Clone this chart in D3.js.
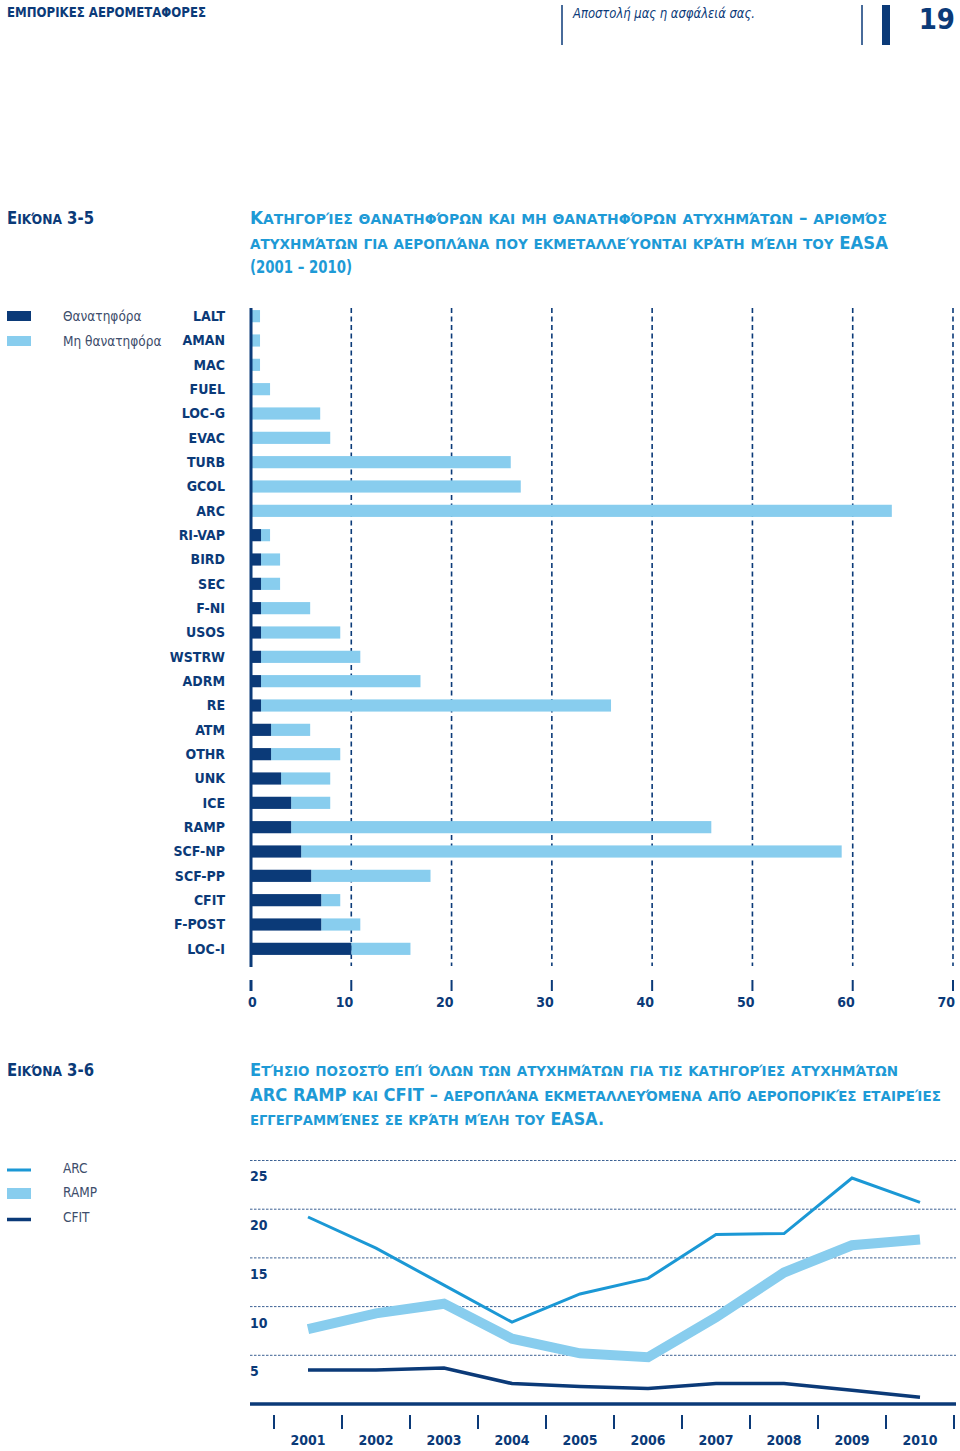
<!DOCTYPE html>
<html lang="el">
<head>
<meta charset="utf-8">
<script src="https://cdn.jsdelivr.net/npm/d3@7"></script>
<style>
  html, body { margin: 0; padding: 0; background: #fff; }
  svg { display: block; }
</style>
</head>
<body>
<svg id="chart" width="960" height="1451"></svg>
<script>
// ---------- Data: Figure 3-5 ----------
const categories = ["LALT","AMAN","MAC","FUEL","LOC-G","EVAC","TURB","GCOL","ARC","RI-VAP","BIRD","SEC","F-NI","USOS","WSTRW","ADRM","RE","ATM","OTHR","UNK","ICE","RAMP","SCF-NP","SCF-PP","CFIT","F-POST","LOC-I"];
const fatal    = [0,0,0,0,0,0,0,0,0,1,1,1,1,1,1,1,1,2,2,3,4,4,5,6,7,7,10];
const nonFatal = [1,1,1,2,7,8,26,27,64,1,2,2,5,8,10,16,35,4,7,5,4,42,54,12,2,4,6];
const xTicks = [0,10,20,30,40,50,60,70];
const barLegend = ["Θανατηφόρα","Μη θανατηφόρα"];

// ---------- Data: Figure 3-6 ----------
const years = ["2001","2002","2003","2004","2005","2006","2007","2008","2009","2010"];
const arcPct  = [19.2,16.0,12.2,8.4,11.3,12.9,17.4,17.5,23.2,20.7];
const rampPct = [7.7,9.3,10.3,6.7,5.2,4.8,8.9,13.5,16.3,16.9];
const cfitPct = [3.5,3.5,3.7,2.1,1.8,1.6,2.1,2.1,1.4,0.7];
const yTicks = [5,10,15,20,25];
const lineLegend = ["ARC","RAMP","CFIT"];

const NAVY = "#0b3a78";
const LIGHT = "#88cdee";
const MID = "#1b98d5";
const TITLE = "#1e9ad6";
const GREY = "#3d4d6b";
const FONT = '"Liberation Sans Narrow", "DejaVu Sans Condensed", "Open Sans", sans-serif';

const svg = d3.select("#chart");

// ---------- Header ----------
svg.append("text").attr("x", 7).attr("y", 17).attr("font-family", FONT)
  .attr("font-weight", "bold").attr("font-size", 14).attr("fill", NAVY)
  .attr("textLength", 199).attr("lengthAdjust", "spacingAndGlyphs")
  .text("ΕΜΠΟΡΙΚΕΣ ΑΕΡΟΜΕΤΑΦΟΡΕΣ");
svg.append("line").attr("x1", 562).attr("x2", 562).attr("y1", 5).attr("y2", 45)
  .attr("stroke", NAVY).attr("stroke-width", 1.5);
svg.append("text").attr("x", 573).attr("y", 18).attr("font-family", FONT)
  .attr("font-style", "italic").attr("font-size", 14).attr("fill", NAVY)
  .attr("textLength", 182).attr("lengthAdjust", "spacingAndGlyphs")
  .text("Αποστολή μας η ασφάλειά σας.");
svg.append("line").attr("x1", 862).attr("x2", 862).attr("y1", 5).attr("y2", 45)
  .attr("stroke", NAVY).attr("stroke-width", 1.5);
svg.append("rect").attr("x", 882).attr("y", 5).attr("width", 8).attr("height", 40).attr("fill", NAVY);
svg.append("text").attr("x", 955).attr("y", 29).attr("text-anchor", "end").attr("font-family", FONT)
  .attr("font-weight", "bold").attr("font-size", 29).attr("fill", NAVY).text("19");

// small caps built from tspans: capitals full size, lowercase as smaller capitals
function smallCapsText(x, y, txt, color, width) {
  const t = svg.append("text").attr("x", x).attr("y", y).attr("font-family", FONT)
    .attr("font-weight", "bold").attr("fill", color);
  const parts = [];
  for (const ch of txt) {
    const isLower = ch !== ch.toUpperCase();
    const big = !isLower;
    if (parts.length && parts[parts.length - 1].big === big) parts[parts.length - 1].s += ch;
    else parts.push({ big, s: ch });
  }
  parts.forEach(p => t.append("tspan").attr("font-size", p.big ? 17 : 14)
    .text(p.big ? p.s : p.s.toUpperCase()));
  if (width) t.attr("textLength", width).attr("lengthAdjust", "spacingAndGlyphs");
  return t;
}

// ---------- Figure 3-5 title ----------
smallCapsText(7, 224, "Εικόνα 3-5", NAVY, 87);
const t1 = ["Κατηγορίες θανατηφόρων και μη θανατηφόρων ατυχημάτων – αριθμός",
            "ατυχημάτων για αεροπλάνα που εκμεταλλεύονται κράτη μέλη του EASA",
            "(2001 – 2010)"];
const t1w = [637, 638, 102];
t1.forEach((t, i) => smallCapsText(250, 224 + i * 24.5, t, TITLE, t1w[i]));

// ---------- Figure 3-5 chart ----------
const x = d3.scaleLinear().domain([0, 70]).range([251, 953]);
const y = d3.scaleBand().domain(categories).range([304, 961]).paddingInner(0.5).paddingOuter(0.25);

// gridlines
svg.append("g").selectAll("line").data(xTicks.filter(d => d > 0)).join("line")
  .attr("x1", d => x(d)).attr("x2", d => x(d)).attr("y1", 308).attr("y2", 966)
  .attr("stroke", NAVY).attr("stroke-width", 1.6).attr("stroke-dasharray", "5,3.5");

// stacked bars
const rows = categories.map((c, i) => ({ c, f: fatal[i], n: nonFatal[i] }));
svg.append("g").selectAll("rect").data(rows).join("rect")
  .attr("x", d => x(d.f)).attr("y", d => y(d.c)).attr("height", y.bandwidth())
  .attr("width", d => x(d.f + d.n) - x(d.f) - 1).attr("fill", LIGHT);
svg.append("g").selectAll("rect").data(rows.filter(d => d.f > 0)).join("rect")
  .attr("x", x(0)).attr("y", d => y(d.c)).attr("height", y.bandwidth())
  .attr("width", d => x(d.f) - x(0)).attr("fill", NAVY);

// vertical axis line
svg.append("line").attr("x1", x(0)).attr("x2", x(0)).attr("y1", 308).attr("y2", 967)
  .attr("stroke", NAVY).attr("stroke-width", 3);

// category labels
svg.append("g").selectAll("text").data(categories).join("text")
  .attr("x", 225).attr("y", d => y(d) + y.bandwidth() / 2).attr("dy", "0.35em")
  .attr("text-anchor", "end").attr("font-family", FONT).attr("font-weight", "bold")
  .attr("font-size", 14).attr("fill", NAVY).text(d => d);

// bottom axis ticks and labels
const xAxisG = svg.append("g").attr("transform", "translate(0,980)");
xAxisG.selectAll("line").data(xTicks).join("line")
  .attr("x1", d => x(d)).attr("x2", d => x(d)).attr("y1", 0).attr("y2", 11)
  .attr("stroke", NAVY).attr("stroke-width", d => d === 0 ? 3 : 2);
xAxisG.selectAll("text").data(xTicks).join("text")
  .attr("x", d => d === 0 ? x(d) - 3 : x(d) + 2).attr("y", 27)
  .attr("text-anchor", d => d === 0 ? "start" : "end")
  .attr("font-family", FONT).attr("font-weight", "bold").attr("font-size", 14)
  .attr("fill", NAVY).text(d => d);

// legend
const barLegendColors = [NAVY, LIGHT];
barLegend.forEach((l, i) => {
  svg.append("rect").attr("x", 7).attr("y", 311 + i * 25).attr("width", 24).attr("height", 10)
    .attr("fill", barLegendColors[i]);
  svg.append("text").attr("x", 63).attr("y", 316 + i * 25).attr("dy", "0.35em")
    .attr("font-family", FONT).attr("font-size", 13.5).attr("fill", GREY).text(l);
});

// ---------- Figure 3-6 title ----------
smallCapsText(7, 1076, "Εικόνα 3-6", NAVY, 87);
const t2 = ["Ετήσιο ποσοστό επί όλων των ατυχημάτων για τις κατηγορίες ατυχημάτων",
            "ARC RAMP και CFIT – αεροπλάνα εκμεταλλευόμενα από αεροπορικές εταιρείες",
            "εγγεγραμμένες σε κράτη μέλη του EASA."];
const t2w = [648, 691, 354];
t2.forEach((t, i) => smallCapsText(250, 1076 + i * 24.5, t, TITLE, t2w[i]));

// ---------- Figure 3-6 chart ----------
const xb = d3.scaleBand().domain(years).range([274, 954]);
const yl = d3.scaleLinear().domain([0, 25]).range([1404, 1160.5]);

svg.append("g").selectAll("line").data(yTicks).join("line")
  .attr("x1", 250).attr("x2", 956).attr("y1", d => yl(d)).attr("y2", d => yl(d))
  .attr("stroke", NAVY).attr("stroke-width", 1).attr("stroke-opacity", 0.8)
  .attr("stroke-dasharray", "2.5,1.5");
svg.append("g").selectAll("text").data(yTicks).join("text")
  .attr("x", 250).attr("y", d => yl(d) + 16).attr("dy", "0.35em")
  .attr("font-family", FONT).attr("font-weight", "bold").attr("font-size", 14)
  .attr("fill", NAVY).text(d => d);

const line = d3.line().x((d, i) => xb(years[i]) + xb.bandwidth() / 2).y(d => yl(d));
svg.append("path").datum(rampPct).attr("d", line).attr("fill", "none")
  .attr("stroke", LIGHT).attr("stroke-width", 10);
svg.append("path").datum(arcPct).attr("d", line).attr("fill", "none")
  .attr("stroke", MID).attr("stroke-width", 3);
svg.append("path").datum(cfitPct).attr("d", line).attr("fill", "none")
  .attr("stroke", NAVY).attr("stroke-width", 3.5);

// baseline
svg.append("line").attr("x1", 250).attr("x2", 956).attr("y1", yl(0)).attr("y2", yl(0))
  .attr("stroke", NAVY).attr("stroke-width", 3.5);

// year ticks (band boundaries) and labels
const bounds = years.map(d => xb(d)).concat([xb(years[years.length - 1]) + xb.bandwidth()]);
svg.append("g").selectAll("line").data(bounds).join("line")
  .attr("x1", d => d).attr("x2", d => d).attr("y1", 1415).attr("y2", 1429)
  .attr("stroke", NAVY).attr("stroke-width", 2);
svg.append("g").selectAll("text").data(years).join("text")
  .attr("x", d => xb(d) + xb.bandwidth() / 2).attr("y", 1440).attr("dy", "0.35em")
  .attr("text-anchor", "middle").attr("font-family", FONT).attr("font-weight", "bold")
  .attr("font-size", 14).attr("fill", NAVY).text(d => d);

// legend
const lineLegendStyles = [{ c: MID, h: 3 }, { c: LIGHT, h: 11 }, { c: NAVY, h: 3.5 }];
lineLegend.forEach((l, i) => {
  const cy = 1169 + i * 24.5;
  const s = lineLegendStyles[i];
  svg.append("rect").attr("x", 7).attr("y", cy - s.h / 2 + (i === 0 ? 1 : i === 2 ? 1.5 : 0))
    .attr("width", 24).attr("height", s.h).attr("fill", s.c);
  svg.append("text").attr("x", 63).attr("y", 1168 + i * 24.5).attr("dy", "0.35em")
    .attr("font-family", FONT).attr("font-size", 13.5).attr("fill", GREY).text(l);
});
</script>
</body>
</html>
